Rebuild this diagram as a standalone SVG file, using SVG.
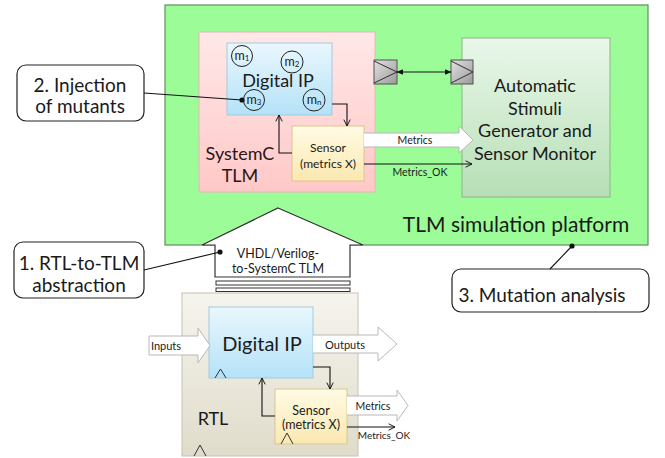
<svg xmlns="http://www.w3.org/2000/svg" width="665" height="458" viewBox="0 0 665 458">
<defs>
<linearGradient id="gPink" x1="0" y1="0" x2="0" y2="1"><stop offset="0" stop-color="#ffe8e8"/><stop offset="1" stop-color="#ffc8c8"/></linearGradient>
<linearGradient id="gBlue" x1="0" y1="0" x2="0" y2="1"><stop offset="0" stop-color="#eaf7fd"/><stop offset="1" stop-color="#b4e2f8"/></linearGradient>
<linearGradient id="gYel" x1="0" y1="0" x2="0" y2="1"><stop offset="0" stop-color="#fffbe4"/><stop offset="1" stop-color="#fbe8b0"/></linearGradient>
<linearGradient id="gGreen" x1="0" y1="0" x2="0" y2="1"><stop offset="0" stop-color="#eaf7ea"/><stop offset="1" stop-color="#b6dfb6"/></linearGradient>
<linearGradient id="gBeige" x1="0" y1="0" x2="0" y2="1"><stop offset="0" stop-color="#f6f4ee"/><stop offset="1" stop-color="#e0dccb"/></linearGradient>
<linearGradient id="gPort" x1="0" y1="0" x2="1" y2="1"><stop offset="0" stop-color="#e2e2e2"/><stop offset="1" stop-color="#9a9a9a"/></linearGradient>
<marker id="open" viewBox="0 0 10 10" refX="9" refY="5" markerWidth="8" markerHeight="8" markerUnits="userSpaceOnUse" orient="auto-start-reverse"><path d="M1,1 L9,5 L1,9" fill="none" stroke="#111" stroke-width="1.2"/></marker>
<marker id="solid" viewBox="0 0 10 10" refX="9" refY="5" markerWidth="7" markerHeight="7" markerUnits="userSpaceOnUse" orient="auto-start-reverse"><path d="M0,1 L10,5 L0,9 Z" fill="#111"/></marker>
<style>
text{font-family:Lato,"Liberation Sans",sans-serif;fill:#1a1a1a;text-anchor:middle;dominant-baseline:central}
.wire{fill:none;stroke:#111;stroke-width:1.1}
.big{fill:#fff;stroke:#b8b8b8;stroke-width:1}
.callout{fill:#fff;stroke:#222;stroke-width:1.2}
.clk{fill:none;stroke:#333;stroke-width:1}
.mc{fill:none;stroke:#222;stroke-width:1}
.ct{font-size:19px}
.sm{font-size:10.5px}
.mt{font-size:12.5px}
.sub{font-size:8px}
</style>
</defs>

<g id="platform">
<rect x="165" y="5" width="483" height="240" fill="#9cfc98" stroke="#5f8f5f" stroke-width="1.2"/>
<text x="516" y="223" style="font-size:21px">TLM simulation platform</text>
</g>

<g id="systemc">
<rect x="199" y="32" width="176" height="160" fill="url(#gPink)" stroke="#e8b4b4"/>
<text x="240" y="153" style="font-size:18px;fill:#2a1616">SystemC</text>
<text x="240" y="175" style="font-size:18px;fill:#2a1616">TLM</text>
</g>

<g id="digital-ip-tlm">
<rect x="227" y="43" width="105" height="72" fill="url(#gBlue)" stroke="#a0cce0"/>
<text x="278" y="80" style="font-size:18px">Digital IP</text>
</g>

<g id="m1"><circle cx="242" cy="56" r="10.5" class="mc"/><text x="242" y="55" class="mt">m<tspan dy="3" class="sub">1</tspan></text></g>
<g id="m2"><circle cx="292" cy="62" r="11" class="mc"/><text x="292" y="61" class="mt">m<tspan dy="3" class="sub">2</tspan></text></g>
<g id="m3"><circle cx="254" cy="100" r="10.5" class="mc"/><text x="254" y="99" class="mt">m<tspan dy="3" class="sub">3</tspan></text></g>
<g id="mn"><circle cx="314" cy="100" r="11" class="mc"/><text x="314" y="99" class="mt">m<tspan dy="3" class="sub">n</tspan></text></g>

<g id="sensor-tlm">
<rect x="292" y="126" width="72" height="55" fill="url(#gYel)" stroke="#d8c890"/>
<text x="328" y="147" style="font-size:12px">Sensor</text>
<text x="328" y="163" style="font-size:12px">(metrics X)</text>
</g>

<g id="monitor">
<rect x="462" y="38" width="148" height="159" fill="url(#gGreen)" stroke="#8cb48c"/>
<text x="535" y="85" style="font-size:18px">Automatic</text>
<text x="535" y="108" style="font-size:18px">Stimuli</text>
<text x="535" y="130" style="font-size:18px">Generator and</text>
<text x="535" y="153" style="font-size:18px">Sensor Monitor</text>
</g>

<g id="port-left">
<rect x="374" y="60" width="23" height="24" fill="url(#gPort)" stroke="#505050"/>
<path d="M374,61 L397,72 L374,83" fill="none" stroke="#303030"/>
</g>
<g id="port-right">
<rect x="451" y="60" width="22" height="24" fill="url(#gPort)" stroke="#505050"/>
<path d="M451,61 L473,72 L451,83" fill="none" stroke="#303030"/>
</g>

<g id="translation">
<path d="M278,208 L363,245 L350,245 L350,277 L215,277 L215,245 L202,245 Z" fill="#fff" stroke="#333" stroke-width="1.2"/>
<rect x="216" y="281" width="134" height="4" fill="#fff" stroke="#333"/>
<rect x="216" y="288" width="134" height="3.5" fill="#fff" stroke="#333"/>
<text x="278" y="253" style="font-size:12.5px">VHDL/Verilog-</text>
<text x="278" y="268" style="font-size:12.5px">to-SystemC TLM</text>
</g>

<g id="rtl">
<rect x="182" y="293" width="176" height="163" fill="url(#gBeige)" stroke="#c8c4b0"/>
<text x="213" y="418" style="font-size:18px">RTL</text>
<path d="M194,456 L200,445 L206,456" class="clk"/>
</g>

<g id="digital-ip-rtl">
<rect x="209" y="307" width="104" height="71" fill="url(#gBlue)" stroke="#a0cce0"/>
<text x="262" y="343" style="font-size:20px">Digital IP</text>
<path d="M215,378 L220.5,369 L226,378" class="clk"/>
</g>

<g id="sensor-rtl">
<rect x="275" y="389" width="72" height="55" fill="url(#gYel)" stroke="#d8c890"/>
<text x="311" y="410" style="font-size:12.5px">Sensor</text>
<text x="311" y="424" style="font-size:12.5px">(metrics X)</text>
<path d="M281,444 L287,433 L293,444" class="clk"/>
</g>

<g id="callout-2">
<rect x="17" y="65" width="127" height="56" rx="9" class="callout"/>
<text x="80" y="84" class="ct">2. Injection</text>
<text x="80" y="105" class="ct">of mutants</text>
</g>
<g id="callout-1">
<rect x="14" y="242" width="130" height="56" rx="9" class="callout"/>
<text x="79" y="262" class="ct">1. RTL-to-TLM</text>
<text x="79" y="284" class="ct">abstraction</text>
</g>
<g id="callout-3">
<rect x="452" y="269" width="197" height="43" rx="9" class="callout"/>
<text x="542" y="294" class="ct">3. Mutation analysis</text>
</g>

<g id="connectors">
<path d="M332,104 H347 V126" class="wire" marker-end="url(#open)"/>
<path d="M292,153 H279 V115" class="wire" marker-end="url(#open)"/>
<path d="M397,72 H451" class="wire" marker-start="url(#solid)" marker-end="url(#solid)"/>
<path d="M364,133 H459 V126 L473,140 L459,153 V147 H364" class="big"/>
<text x="415" y="140" class="sm">Metrics</text>
<path d="M364,164 H472" class="wire" marker-end="url(#open)"/>
<text x="420" y="172" class="sm">Metrics_OK</text>

<path d="M149,336 H198 V328 L210,345.5 L198,363 V355 H149 Z" class="big"/>
<text x="166" y="345" style="font-size:11px">Inputs</text>
<path d="M313,335 H378 V327 L397,344 L378,361 V353 H313" class="big"/>
<text x="345" y="344" style="font-size:11px">Outputs</text>
<path d="M313,367 H330 V389" class="wire" marker-end="url(#open)"/>
<path d="M275,416 H262 V378" class="wire" marker-end="url(#open)"/>
<path d="M347,396 H397 V390 L408,405.5 L397,421 V415 H347" class="big"/>
<text x="373" y="406" style="font-size:10.5px">Metrics</text>
<path d="M347,427 H395" class="wire" marker-end="url(#open)"/>
<text x="384" y="435" style="font-size:10px">Metrics_OK</text>

<path d="M144,93 L242,100" class="wire"/>
<circle cx="242" cy="100" r="2.6" fill="#111"/>
<path d="M144,270 L220,252" class="wire"/>
<circle cx="220" cy="252" r="2.6" fill="#111"/>
<path d="M550,269 L572,246" class="wire"/>
<circle cx="572" cy="246" r="2.6" fill="#111"/>
</g>
</svg>
